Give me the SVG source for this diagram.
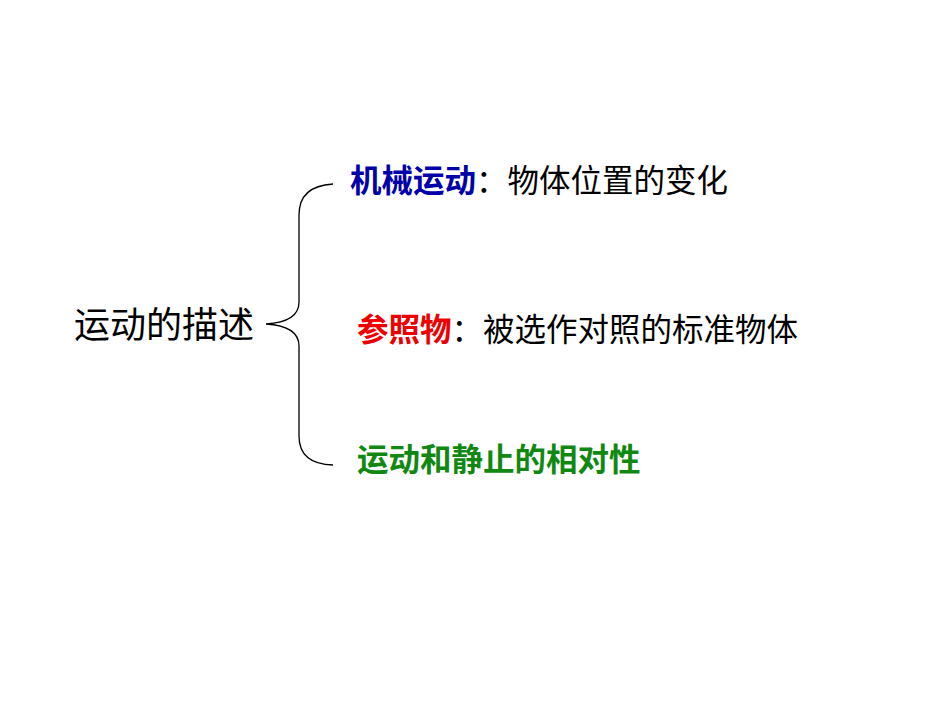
<svg xmlns="http://www.w3.org/2000/svg" width="950" height="713" viewBox="0 0 950 713">
<style>
text{font-family:"Liberation Sans","Noto Sans CJK SC",sans-serif;font-size:31.5px;fill:#000}
.b{font-weight:bold}
.blue{fill:#0000aa}
.red{fill:#ee0000}
.green{fill:#118811}
</style>
<rect width="950" height="713" fill="#fff"/>
<g id="root"><text x="74" y="338" style="font-size:36px">运动的描述</text></g>
<g id="connectors"><path d="M333,184 Q299,186 299,215 L299,302 Q299,322 266,324 Q299,326 299,346 L299,436 Q299,464 333,465" fill="none" stroke="#000" stroke-width="1.3"/></g>
<g id="n1"><text x="350" y="192"><tspan class="b blue">机械运动</tspan>：物体位置的变化</text></g>
<g id="n2"><text x="357" y="341"><tspan class="b red">参照物</tspan>：被选作对照的标准物体</text></g>
<g id="n3"><text x="357" y="471" class="b green">运动和静止的相对性</text></g>
</svg>
